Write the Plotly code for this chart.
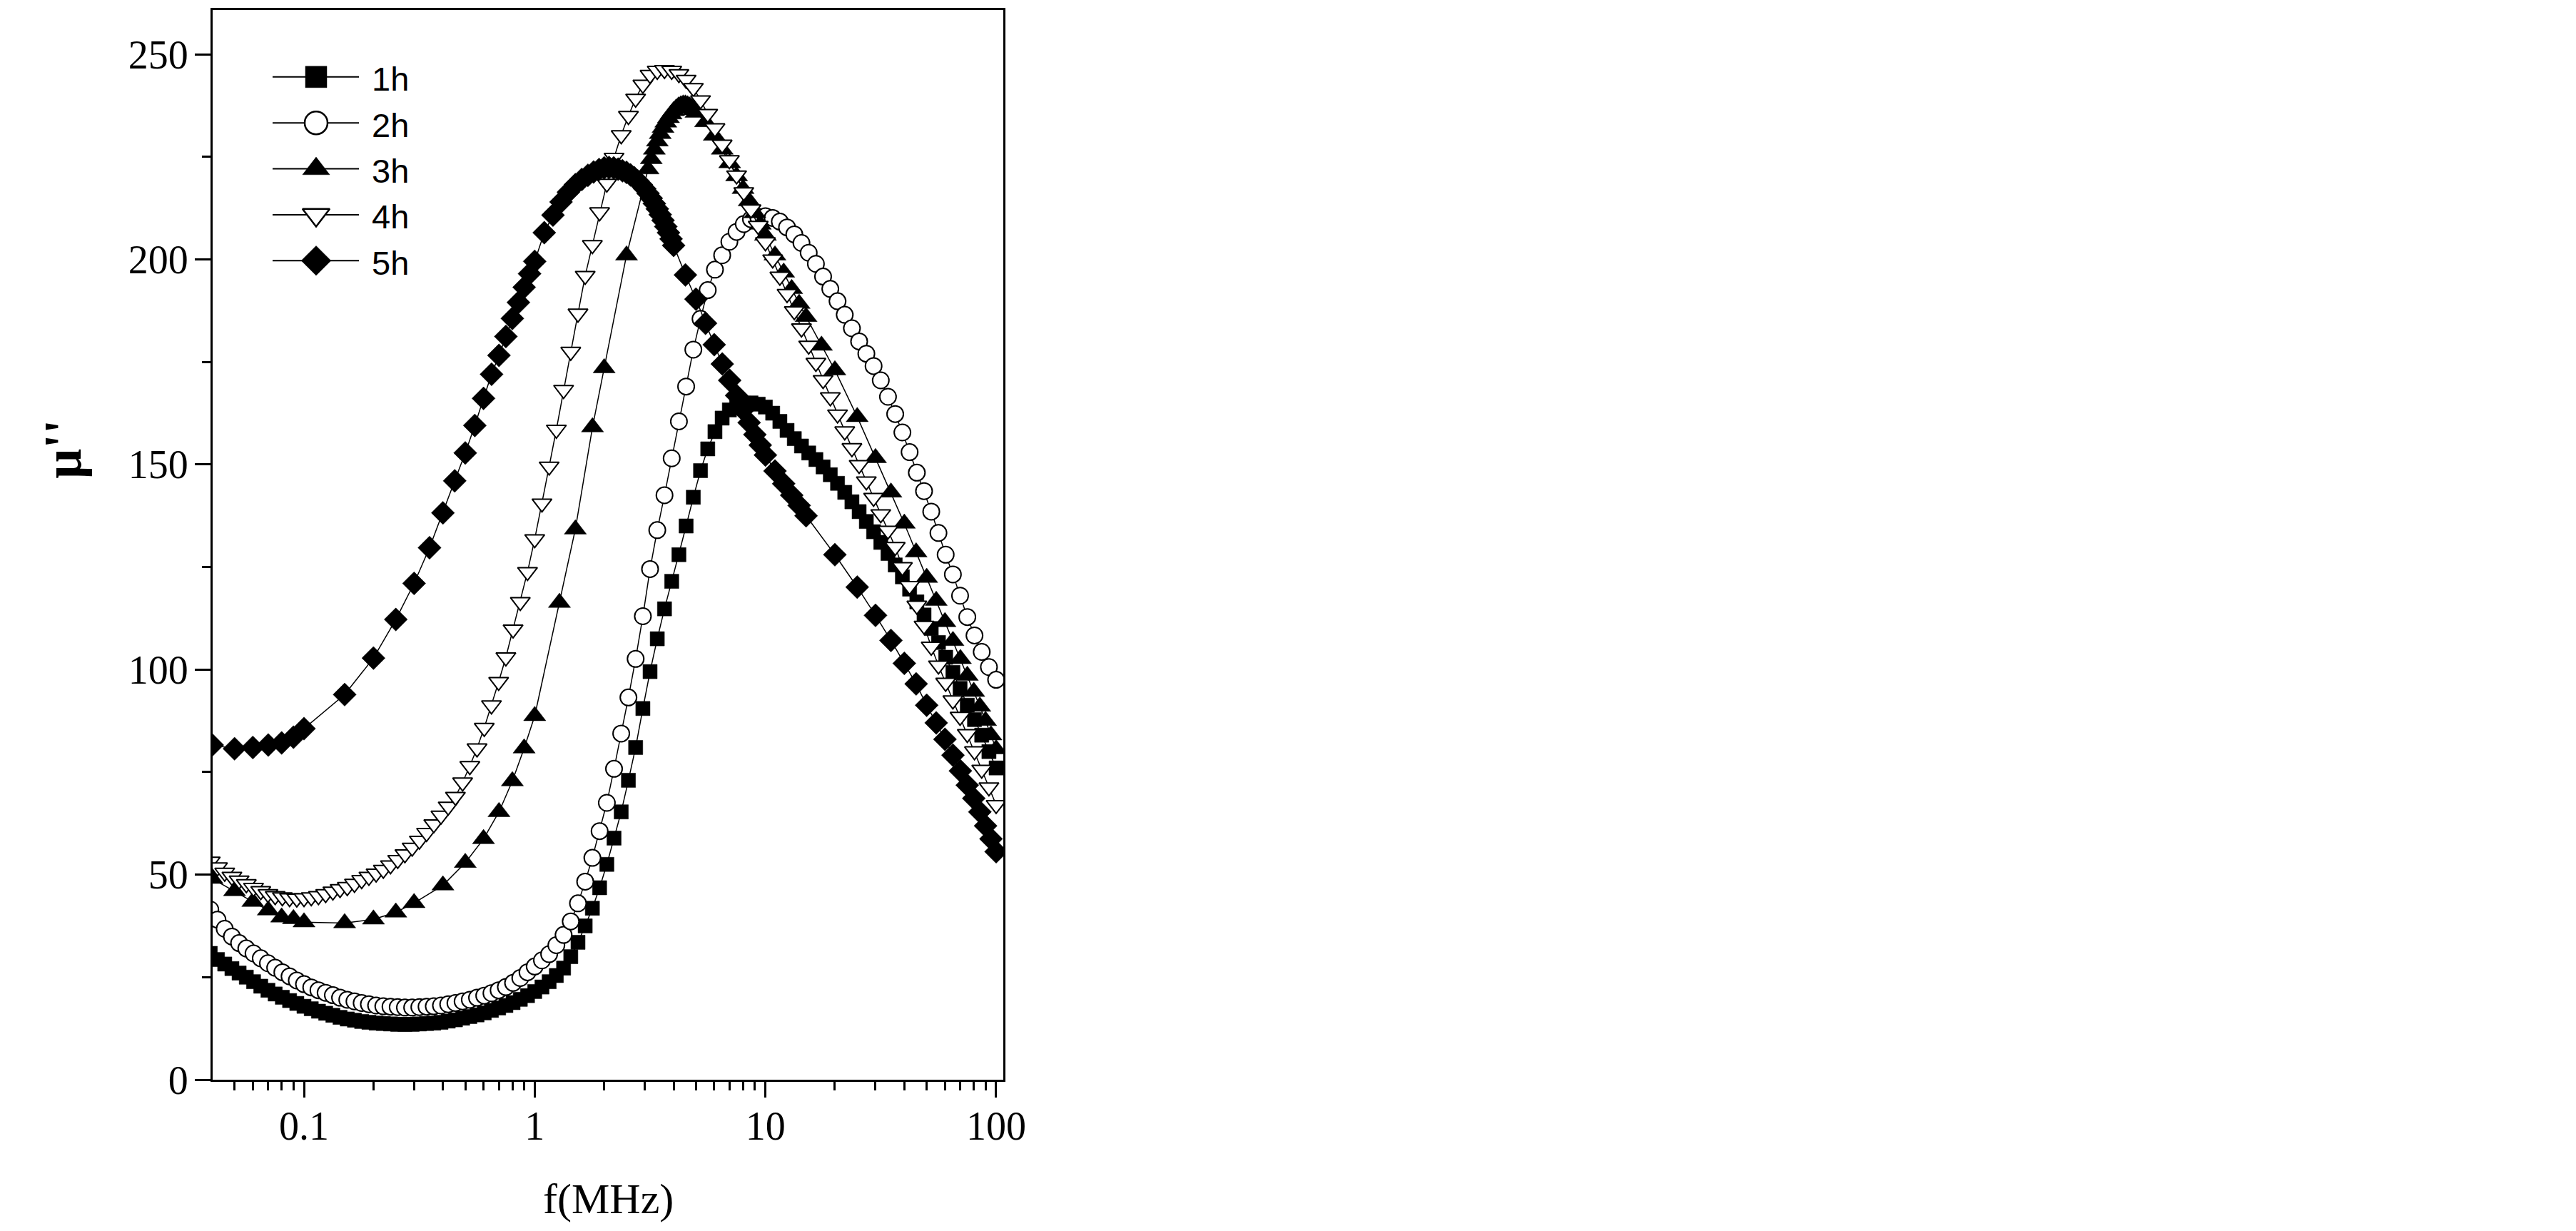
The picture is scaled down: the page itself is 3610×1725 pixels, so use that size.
import plotly.graph_objects as go

# ---- data: f in MHz, mu'' ----
# log sweep shared by the 1h, 2h and 4h samples
f_sweep = [
    0.03924, 0.04217, 0.04532, 0.04870, 0.05233, 0.05623, 0.06043, 0.06494, 0.06978, 0.07499,
    0.08058, 0.08660, 0.09306,
    0.1000, 0.1075, 0.1155, 0.1241, 0.1334, 0.1433, 0.1540, 0.1655, 0.1778, 0.1911,
    0.2054, 0.2207, 0.2371, 0.2548, 0.2738, 0.2943, 0.3162, 0.3398, 0.3652, 0.3924,
    0.4217, 0.4532, 0.4870, 0.5233, 0.5623, 0.6043, 0.6494, 0.6978, 0.7499, 0.8058,
    0.8660, 0.9306,
    1.000, 1.075, 1.155, 1.241, 1.334, 1.433, 1.540, 1.655, 1.778, 1.911,
    2.054, 2.207, 2.371, 2.548, 2.738, 2.943, 3.162, 3.398, 3.652, 3.924,
    4.217, 4.532, 4.870, 5.233, 5.623, 6.043, 6.494, 6.978, 7.499, 8.058,
    8.660, 9.306,
    10.00, 10.75, 11.55, 12.41, 13.34, 14.33, 15.40, 16.55, 17.78, 19.11,
    20.54, 22.07, 23.71, 25.48, 27.38, 29.43, 31.62, 33.98, 36.52, 39.24,
    42.17, 45.32, 48.70, 52.33, 56.23, 60.43, 64.94, 69.78, 74.99, 80.58,
    86.60, 93.06,
    100.0,
]

mu_1h = [
    30.8, 29.3, 28.2, 27.1, 26.0, 25.0, 23.9, 22.8, 21.8, 20.9, 20.1, 19.3, 18.6,
    17.9, 17.3, 16.7, 16.2, 15.7, 15.2, 14.8, 14.5, 14.2, 14.0, 13.8, 13.7, 13.6, 13.5,
    13.5, 13.5, 13.6, 13.7, 13.8, 14.0, 14.3, 14.6, 15.0, 15.4, 15.8, 16.3, 16.9, 17.5,
    18.1, 18.8, 19.6, 20.5,
    21.5, 22.6, 23.9, 25.4, 27.2, 30.0, 33.5, 37.5, 41.8, 46.8, 52.5, 58.9, 65.3, 73.0,
    81.0, 90.5, 99.5, 107.5, 114.8, 121.5, 128.0, 135.0, 142.0, 148.5, 153.8, 158.0,
    161.3, 163.3, 164.4, 164.9, 165.0, 164.7,
    164.0, 162.5, 160.5, 158.3, 156.3, 154.5, 152.8, 151.2, 149.4, 147.5, 145.4, 143.2,
    140.9, 138.5, 136.1, 133.6, 131.0, 128.3, 125.5, 122.6, 119.6, 116.5, 113.3, 110.0,
    106.6, 103.0, 99.3, 95.4, 91.3, 87.8, 84.0, 80.0,
    76.0,
]

mu_2h = [
    41.5, 39.0, 36.8, 34.9, 33.3, 32.0, 30.8, 29.6, 28.4, 27.3, 26.2, 25.2, 24.2,
    23.3, 22.5, 21.8, 21.2, 20.6, 20.0, 19.5, 19.1, 18.7, 18.4, 18.1, 17.9, 17.8, 17.7,
    17.6, 17.6, 17.7, 17.8, 17.9, 18.1, 18.4, 18.7, 19.1, 19.5, 20.0, 20.5, 21.1, 21.8,
    22.6, 23.6, 24.8, 26.2,
    27.6, 29.1, 30.6, 32.8, 35.3, 38.6, 43.0, 48.3, 54.1, 60.6, 67.5, 75.8, 84.4, 93.2,
    102.6, 113.0, 124.5, 134.0, 142.5, 151.5, 160.5, 169.0, 178.0, 185.5, 192.5, 197.5,
    201.0, 204.3, 206.7, 208.6, 209.8, 210.4,
    210.5, 210.1, 209.2, 207.8, 206.1, 204.0, 201.6, 198.9, 195.8, 192.8, 189.8, 186.5,
    183.2, 180.0, 177.0, 174.0, 170.5, 166.5, 162.3, 157.8, 153.0, 148.0, 143.5, 138.5,
    133.3, 128.0, 123.2, 118.0, 112.8, 108.3, 104.3, 100.6,
    97.5,
]

mu_4h = [
    53.2, 51.8, 50.5, 49.5, 48.6, 47.7, 46.8, 46.0, 45.3, 44.8, 44.5, 44.3, 44.2,
    44.3, 44.5, 44.8, 45.3, 45.9, 46.5, 47.0, 47.8, 48.7, 49.5, 50.3, 51.2, 52.3, 53.6,
    55.0, 56.6, 58.3, 60.2, 62.3, 64.4, 66.6, 69.0, 72.5, 76.5, 80.8, 85.8, 91.3, 97.0,
    103.0, 109.8, 116.5, 123.8,
    131.8, 140.5, 149.5, 158.5, 168.2, 177.5, 186.8, 196.0, 203.5, 211.5, 218.5, 224.8,
    230.3, 235.0, 239.2, 242.6, 245.0, 246.0, 246.2, 246.0, 245.2, 243.8, 241.8, 238.8,
    235.5, 232.0, 228.0, 224.2, 220.5, 216.4, 212.2, 208.2,
    204.2, 200.0, 195.8, 191.6, 187.4, 183.2, 179.0, 174.8, 170.6, 166.4, 162.2, 158.1,
    154.0, 149.9, 145.9, 141.9, 137.9, 133.9, 129.9, 125.0, 120.4, 115.6, 110.7, 105.6,
    101.0, 96.8, 92.5, 88.5, 84.3, 80.1, 75.6, 71.3,
    67.0,
]

f_3h = [
    0.04, 0.05, 0.06, 0.07, 0.08, 0.09, 0.1, 0.15, 0.2, 0.25, 0.3,
    0.4, 0.5, 0.6, 0.7, 0.8, 0.9, 1.0, 1.28, 1.5, 1.78, 2.0, 2.5, 3.1,
    3.2, 3.3, 3.4, 3.5, 3.6, 3.7, 3.8, 3.9, 4.0, 4.1, 4.2, 4.3, 4.4, 4.5,
    4.6, 4.7, 4.8, 4.9, 5.0,
    5.5, 6.0, 6.5, 7.0, 7.5, 8.0, 8.5, 9.0, 9.5, 10,
    11, 12, 13, 14, 15, 17.5, 20,
    25, 30, 35, 40, 45, 50, 55, 60, 65, 70, 75, 80, 85, 90, 95, 100,
]
mu_3h = [
    49.0, 46.0, 43.4, 41.3, 39.6, 39.2, 38.4, 38.2, 39.1, 40.8, 43.1,
    47.4, 52.9, 58.7, 65.3, 72.8, 80.8, 88.7, 116.3, 134.2, 159.1, 173.5, 201.0, 222.0,
    224.5, 226.8, 228.8, 230.6, 232.1, 233.4, 234.5, 235.4, 236.2, 236.8, 237.3, 237.6,
    237.8, 237.8, 237.6, 237.3, 236.9, 236.4, 235.8,
    233.5, 230.2, 226.8, 223.5, 220.3, 217.2, 214.2, 211.3, 208.5, 205.8,
    201.0, 196.8, 192.8, 189.2, 186.0, 179.0, 173.0,
    161.6, 151.6, 143.2, 135.6, 128.6, 122.4, 116.8, 111.6, 107.0, 102.6, 98.5, 94.6,
    91.0, 87.5, 84.0, 80.6,
]

f_5h = [
    0.04, 0.05, 0.06, 0.07, 0.08, 0.09, 0.1,
    0.15, 0.2, 0.25, 0.3, 0.35, 0.4, 0.45, 0.5, 0.55, 0.6, 0.65, 0.7, 0.75, 0.8,
    0.85, 0.9, 0.95,
    1.0, 1.1, 1.2, 1.3, 1.4, 1.5, 1.6, 1.7, 1.8, 1.9, 2.0, 2.1, 2.2, 2.3, 2.4, 2.5,
    2.6, 2.7, 2.8, 2.9, 3.0, 3.1, 3.2, 3.3, 3.4, 3.5, 3.6, 3.7, 3.8, 3.9, 4.0,
    4.5, 5.0, 5.5, 6.0, 6.5, 7.0, 7.5, 8.0, 8.5, 9.0, 9.5, 10,
    11, 12, 13, 14, 15,
    20, 25, 30, 35, 40, 45, 50, 55, 60, 65, 70, 75, 80, 85, 90, 95, 100,
]
mu_5h = [
    81.6, 80.7, 81.0, 81.6, 82.1, 83.5, 85.6,
    93.9, 102.8, 112.2, 121.0, 129.7, 138.2, 146.0, 152.8, 159.5, 166.1, 172.0, 176.6,
    181.2, 185.6, 189.5, 193.2, 196.5,
    199.5, 206.5, 210.8, 214.0, 216.4, 218.2, 219.5, 220.5, 221.3, 221.9, 222.3, 222.4,
    222.3, 222.0, 221.6, 221.2, 220.6, 219.9, 219.1, 218.2, 217.2, 216.1, 214.9, 213.6,
    212.3, 210.9, 209.5, 208.0, 206.5, 205.0, 203.4,
    196.2, 190.3, 184.4, 179.2, 174.5, 170.5, 166.8, 163.3, 160.2, 157.3, 154.7, 152.3,
    148.4, 145.3, 142.5, 140.0, 137.5,
    128.0, 120.1, 113.2, 107.1, 101.5, 96.5, 91.3, 87.0, 83.0, 79.1, 75.3, 71.8, 68.6,
    65.3, 61.9, 58.7, 55.6,
]

# ---- styling ----
SERIF = "Liberation Serif"
SANS = "Liberation Sans"

# name, x, y, symbol, fill, size in plot, size in legend
series = [
    ("1h", f_sweep, mu_1h, "square", "black", 20, 30),
    ("2h", f_sweep, mu_2h, "circle", "white", 23, 32),
    ("3h", f_3h, mu_3h, "triangle-up", "black", 27, 33),
    ("4h", f_sweep, mu_4h, "triangle-down", "white", 24, 33),
    ("5h", f_5h, mu_5h, "diamond", "black", 25, 32),
]

# the browser adds an 8px body margin around the figure
PAD = 8
W, H = 3610 - 2 * PAD, 1725 - 2 * PAD
# plot area in page pixels
L, R, T, B = 298, 1406, 11, 1513
PW, PH = R - L, B - T


def px_x(x):
    return (x - L) / PW


def px_y(y):
    return (B - y) / PH


fig = go.Figure()

for name, xs, ys, sym, fill, size, _ in series:
    fig.add_trace(go.Scatter(
        x=xs, y=ys, name=name,
        mode="lines+markers",
        line=dict(color="black", width=1.5),
        marker=dict(
            symbol=sym, size=size, color=fill,
            line=dict(color="black", width=2 if fill == "white" else 0.5),
        ),
        showlegend=False,
    ))

# hand-drawn legend (plotly caps legend symbols at 16px)
leg_x0, leg_x1, leg_xm, leg_text = px_x(382), px_x(503), px_x(443), px_x(519)
for i, (name, _, _, sym, fill, _, lsize) in enumerate(series):
    yrow = px_y(105 + 64.5 * i)
    fig.add_trace(go.Scatter(
        x=[leg_x0, leg_x1], y=[yrow, yrow], mode="lines",
        line=dict(color="black", width=2),
        xaxis="x2", yaxis="y2", showlegend=False, hoverinfo="skip",
    ))
    fig.add_trace(go.Scatter(
        x=[leg_xm], y=[yrow], mode="markers",
        marker=dict(symbol=sym, size=lsize, color=fill,
                    line=dict(color="black", width=2.5 if fill == "white" else 0.5)),
        xaxis="x2", yaxis="y2", showlegend=False, hoverinfo="skip",
    ))
    fig.add_annotation(
        x=leg_text, y=px_y(105 + 64.5 * i + 3), xref="paper", yref="paper",
        text=name, showarrow=False, xanchor="left", yanchor="middle",
        font=dict(family=SANS, size=47, color="black"),
    )

# axis titles
fig.add_annotation(
    x=0.5, y=px_y(1680), xref="paper", yref="paper", text="f(MHz)",
    showarrow=False, xanchor="center", yanchor="middle",
    font=dict(family=SERIF, size=60, color="black"),
)
fig.add_annotation(
    x=px_x(88), y=px_y(628), xref="paper", yref="paper", text="<b>μ''</b>",
    showarrow=False, xanchor="center", yanchor="middle", textangle=-90,
    font=dict(family=SERIF, size=74, color="black"),
)

x_minor = [m * d for d in (0.01, 0.1, 1, 10) for m in range(2, 10) if m * d > 0.041]
axis_common = dict(
    ticks="outside", ticklen=22, tickwidth=3, tickcolor="black",
    showline=True, linewidth=3, linecolor="black", mirror=True,
    showgrid=False, zeroline=False,
    tickfont=dict(family=SERIF, size=56, color="black"),
)

fig.update_layout(
    width=W, height=H,
    margin=dict(l=L - PAD, r=W - (R - PAD), t=T - PAD, b=H - (B - PAD), pad=0),
    paper_bgcolor="white", plot_bgcolor="white",
    showlegend=False,
    xaxis=dict(
        type="log", range=[-1.396, 2.031],
        tickvals=[0.1, 1, 10, 100], ticktext=["0.1", "1", "10", "100"],
        ticklabelstandoff=-8,
        minor=dict(tickvals=x_minor, ticks="outside", ticklen=12, tickwidth=3,
                   tickcolor="black", showgrid=False),
        **axis_common,
    ),
    yaxis=dict(
        range=[0, 260.8], tickvals=[0, 50, 100, 150, 200, 250],
        ticklabelstandoff=-2,
        minor=dict(tickvals=[25, 75, 125, 175, 225], ticks="outside", ticklen=12,
                   tickwidth=3, tickcolor="black", showgrid=False),
        **axis_common,
    ),
    xaxis2=dict(overlaying="x", range=[0, 1], visible=False, anchor="y2"),
    yaxis2=dict(overlaying="y", range=[0, 1], visible=False, anchor="x2"),
)

fig.write_html("out.html")
